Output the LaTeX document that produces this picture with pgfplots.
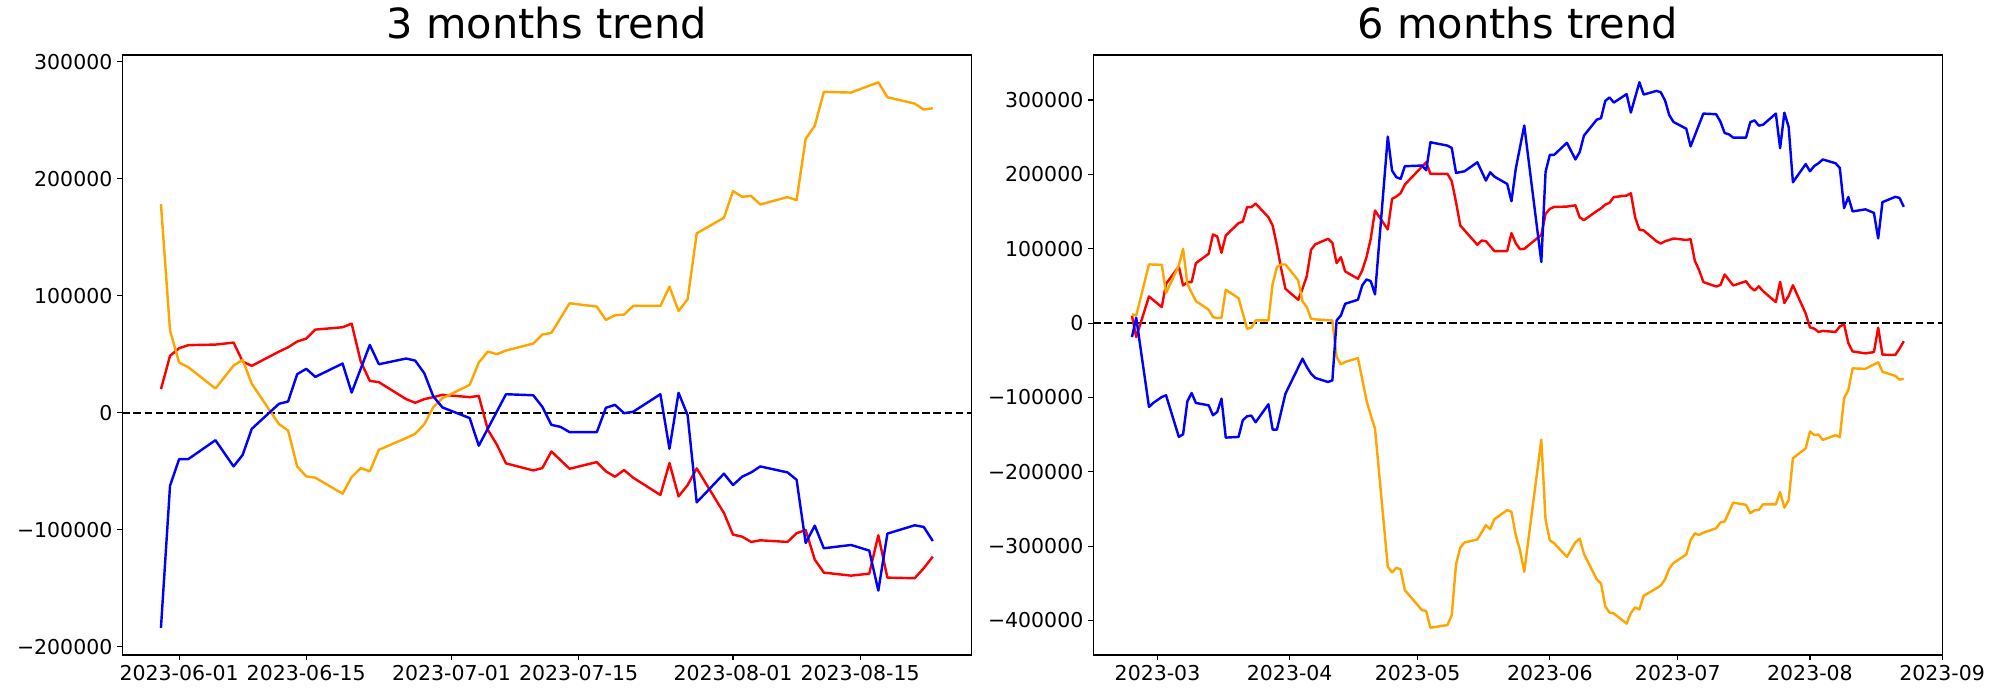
\documentclass[border=0pt]{standalone}
\usepackage{fontspec}
\setmainfont{DejaVu Sans}
\usepackage{pgfplots}
\pgfplotsset{compat=1.18}
\definecolor{mblue}{RGB}{0,0,255}
\definecolor{mred}{RGB}{255,0,0}
\definecolor{morange}{RGB}{255,165,0}
\pgfplotsset{
  trend/.style={
    scale only axis, width=611.3bp, height=432bp,
    axis line style={line width=0.8bp},
    tick align=outside, tick pos=left,
    major tick length=3.5bp,
    major tick style={line width=0.8bp, black},
    tick label style={font=\fontsize{14.8}{17}\selectfont, inner sep=0bp},
    xticklabel shift=3.5bp, yticklabel shift=3.5bp,
    scaled y ticks=false, scaled x ticks=false,
    /pgf/number format/assume math mode=true,
    title style={at={(0.5,1)}, anchor=base, yshift=6bp, inner sep=0bp,
      font=\fontsize{30}{36}\selectfont},
    clip=false,
  },
  zero/.style={black, line width=1.5bp, dash pattern=on 5.6bp off 2.4bp},
  ser/.style={line width=1.75bp, line join=round},
}
\begin{document}
\begin{tikzpicture}
\path[use as bounding box] (0,0) rectangle (1440bp,504bp);
% ---------------- 3 months ----------------
\begin{axis}[trend, at={(88.1bp,32.4bp)}, anchor=south west,
  title={3 months trend},
  xmin=-6.25, xmax=87.25, ymin=-207000, ymax=305600,
  xtick={0,14,30,44,61,75},
  xticklabels={2023-06-01,2023-06-15,2023-07-01,2023-07-15,2023-08-01,2023-08-15},
  ytick={-200000,-100000,0,100000,200000,300000},
  yticklabels={−200000,−100000,0,100000,200000,300000},
]
\addplot[zero] coordinates {(-6.25,0) (87.25,0)};
\addplot[ser, mred] coordinates {
(-2,20100) (-1,48600) (0,55100) (1,57700) (4,58200) (6,59900) (7,43700) (8,40000)
(11,52200) (12,55900) (13,60800) (14,63300) (15,71000) (18,73000) (19,76100) (20,43700)
(21,27200) (22,26100) (25,11600) (26,8500) (27,11600) (28,13300) (29,15300) (32,13300)
(33,14400) (34,-14600) (35,-27400) (36,-43300) (39,-49300) (40,-47300) (41,-33100) (43,-47900)
(46,-42200) (47,-50100) (48,-54700) (49,-49000) (50,-55500) (53,-70300) (54,-43000) (55,-71500)
(56,-61800) (57,-47600) (60,-85700) (61,-104200) (62,-105900) (63,-110400) (64,-109000) (67,-110400)
(68,-103000) (69,-100200) (70,-125500) (71,-136600) (74,-139200) (76,-137500) (77,-104700) (78,-140900)
(81,-141400) (82,-132900) (83,-122900)};
\addplot[ser, morange] coordinates {
(-2,178200) (-1,70200) (0,42900) (1,38900) (4,20600) (6,40300) (7,45100) (8,24700)
(11,-9800) (12,-15200) (13,-45900) (14,-54400) (15,-55500) (18,-69200) (19,-55000) (20,-47300)
(21,-50100) (22,-31700) (25,-21700) (26,-18000) (27,-9800) (28,4800) (29,12400) (32,23800)
(33,42900) (34,52200) (35,50000) (36,53100) (39,59100) (40,66800) (41,68200) (43,93500)
(46,90600) (47,79300) (48,83200) (49,83800) (50,91200) (53,91200) (54,107700) (55,86900)
(56,96900) (57,153200) (60,166600) (61,189300) (62,184500) (63,185100) (64,177900) (67,184200)
(68,181600) (69,234000) (70,245100) (71,274100) (74,273500) (77,282300) (78,269500) (81,264100)
(82,259000) (83,260100)};
\addplot[ser, mblue] coordinates {
(-2,-183800) (-1,-62400) (0,-39700) (1,-39700) (4,-23500) (6,-45900) (7,-36000) (8,-13800)
(11,7600) (12,9600) (13,32900) (14,37500) (15,30600) (18,42000) (19,17200) (21,57900)
(22,41400) (25,46300) (26,44500) (27,33700) (28,13800) (29,4500) (32,-4600) (33,-28200)
(36,15800) (39,14900) (40,5000) (41,-10400) (42,-12100) (43,-16600) (46,-16600) (47,4200)
(48,6700) (49,-400) (50,800) (53,15800) (54,-30800) (55,17000) (56,-2100) (57,-76600)
(60,-52100) (61,-61800) (62,-54700) (63,-51000) (64,-45900) (67,-51000) (68,-57300) (69,-111300)
(70,-96500) (71,-115800) (74,-113000) (76,-117800) (77,-152000) (78,-103300) (81,-96200) (82,-97600)
(83,-109600)};
\end{axis}
% ---------------- 6 months ----------------
\begin{axis}[trend, at={(787.2bp,32.4bp)}, anchor=south west,
  title={6 months trend},
  xmin=-15.05, xmax=184.05, ymin=-446400, ymax=360600,
  xtick={0,31,61,92,122,153,184},
  xticklabels={2023-03,2023-04,2023-05,2023-06,2023-07,2023-08,2023-09},
  ytick={-400000,-300000,-200000,-100000,0,100000,200000,300000},
  yticklabels={−400000,−300000,−200000,−100000,0,100000,200000,300000},
]
\addplot[zero] coordinates {(-15.05,0) (184.05,0)};
\addplot[ser, mred] coordinates {
(-6,10000) (-5,-18800) (-2,35800) (1,21500) (2,52900) (5,76200) (6,50600) (7,55100) (8,55100)
(9,80600) (12,93200) (13,119200) (14,116500) (15,94500) (16,117800) (19,134400) (20,136600)
(21,155900) (22,155900) (23,160800) (26,142400) (27,131200) (28,104400) (29,73000) (30,46100)
(33,31400) (34,46100) (35,63200) (36,98600) (37,106000) (40,113300) (41,108000) (42,80700)
(43,88700) (44,69500) (47,59600) (48,70800) (49,88700) (50,113300) (51,151400) (54,125900)
(55,167100) (56,170200) (57,174700) (58,186300) (63,216300) (64,200600) (68,200600) (69,190800)
(70,162600) (71,131200) (75,105300) (76,111100) (77,110200) (79,96800) (82,96800) (83,121000)
(84,107600) (85,99500) (86,99900)
(90,118600) (91,147100) (92,153600) (93,156200) (96,156700) (98,158400) (99,142200) (100,138500)
(103,150700) (104,154400) (105,159300) (106,161800) (107,169500) (110,171500) (111,174600) (112,142200)
(113,125700) (114,124600) (117,110100) (118,107000) (119,110100) (120,111800) (121,113800) (124,111800)
(125,112900) (126,83900) (127,71100) (128,55200) (131,49200) (132,51200) (133,65400) (135,50600)
(138,56300) (139,48400) (140,43800) (141,49500) (142,43000) (145,28200) (146,55500) (147,27000)
(148,36700) (149,50900) (152,12800) (153,-5700) (154,-7400) (155,-11900) (156,-10500) (159,-11900)
(160,-4500) (161,-1700) (162,-27000) (163,-38100) (166,-40700) (168,-39000) (169,-6200) (170,-42400)
(173,-42900) (174,-34400) (175,-24400)};
\addplot[ser, morange] coordinates {
(-6,11700) (-5,10300) (-2,78900) (1,78400) (2,40400) (5,77500) (6,99900) (7,52900) (8,40800)
(9,29600) (12,18000) (13,8100) (14,6800) (15,7200) (16,44800) (19,33600) (21,-7600)
(22,-6200) (23,3600) (26,3600) (27,52900) (28,75300) (29,78800) (30,78800) (33,57400)
(34,29200) (35,21500) (36,5900) (37,5000) (41,3600) (42,-45600) (43,-55500) (44,-52300)
(47,-47000) (49,-103800) (50,-124000) (51,-141900) (54,-327700) (55,-335300) (56,-329100) (57,-331300)
(58,-359100) (62,-386000) (63,-387300) (64,-409700) (68,-406100) (69,-392700) (70,-324600) (71,-301800)
(72,-295000) (75,-291000) (77,-271800) (78,-277100) (79,-263700) (82,-251600) (83,-253900) (84,-285200)
(85,-305300) (86,-334500)
(90,-156800) (91,-264800) (92,-292100) (93,-296100) (96,-314400) (98,-294700) (99,-289900) (100,-310300)
(103,-344800) (104,-350200) (105,-380900) (106,-389400) (107,-390500) (110,-404200) (111,-390000) (112,-382300)
(113,-385100) (114,-366700) (117,-356700) (118,-353000) (119,-344800) (120,-330200) (121,-322600) (124,-311200)
(125,-292100) (126,-282800) (127,-285000) (128,-281900) (131,-275900) (132,-268200) (133,-266800) (135,-241500)
(138,-244400) (139,-255700) (140,-251800) (141,-251200) (142,-243800) (145,-243800) (146,-227300) (147,-248100)
(148,-238100) (149,-181800) (152,-168400) (153,-145700) (154,-150500) (155,-149900) (156,-157100) (159,-150800)
(160,-153400) (161,-101000) (162,-89900) (163,-60900) (166,-61500) (169,-52700) (170,-65500) (173,-70900)
(174,-76000) (175,-74900)};
\addplot[ser, mblue] coordinates {
(-6,-18800) (-5,7200) (-2,-112800) (-1,-107400) (1,-99400) (2,-97100) (5,-153100) (6,-149500)
(7,-105200) (8,-94000) (9,-107400) (12,-110600) (13,-124000) (14,-119500) (15,-101600) (16,-154000)
(19,-153100) (20,-130700) (21,-125300) (22,-124400) (23,-133400) (26,-109200) (27,-143200) (28,-143200)
(30,-94900) (34,-47900) (35,-59000) (36,-68000) (37,-73800) (40,-79200) (41,-77000) (42,3600)
(43,10300) (44,26000) (47,31400) (48,50600) (49,58700) (50,56500) (51,38600) (54,250800)
(55,205100) (56,196200) (57,194000) (58,211000) (62,211900) (63,205600) (64,243200) (68,238700)
(69,235500) (70,202000) (72,204200) (75,216300) (77,191700) (78,202900) (79,197000) (82,187200)
(83,163900) (84,207300) (86,265700)
(90,82200) (91,203600) (92,226300) (93,226300) (96,242500) (98,220100) (99,230000) (100,252200)
(103,273600) (104,275600) (105,298900) (106,303500) (107,296600) (110,308000) (111,283200) (113,323900)
(114,307400) (117,312300) (118,310500) (119,299700) (120,279800) (121,270500) (124,261400) (125,237800)
(128,281800) (131,280900) (132,271000) (133,255600) (134,253900) (135,249400) (138,249400) (139,270200)
(140,272700) (141,265600) (142,266800) (145,281800) (146,235200) (147,283000) (148,263900) (149,189400)
(152,213900) (153,204200) (154,211300) (155,215000) (156,220100) (159,215000) (160,208700) (161,154700)
(162,169500) (163,150200) (166,153000) (168,148200) (169,114000) (170,162700) (173,169800) (174,168400)
(175,156400)};
\end{axis}
\end{tikzpicture}
\end{document}
